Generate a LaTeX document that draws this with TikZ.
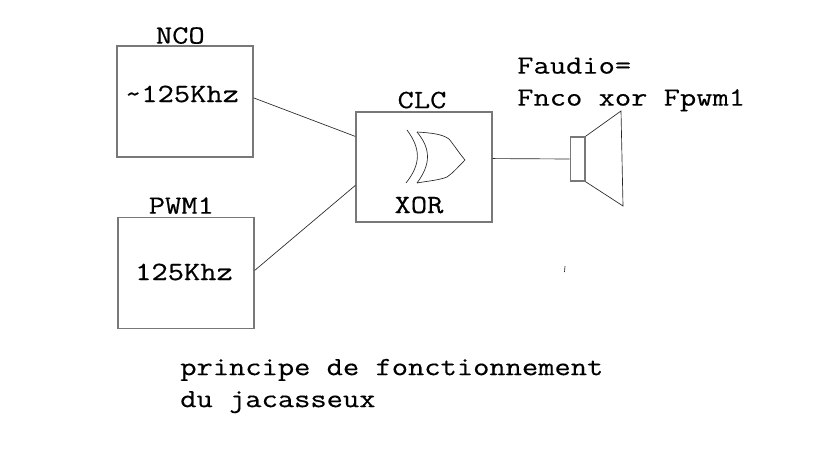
\documentclass[tikz,border=0pt]{standalone}
\usepackage{fontspec}
\setmonofont{Latin Modern Mono}[FakeStretch=1.203,FakeBold=0.4]
\usetikzlibrary{positioning,calc}
\definecolor{boxgray}{RGB}{120,120,120}
\definecolor{wiregray}{RGB}{40,40,40}
\tikzset{
  blockbox/.style={draw=boxgray, line width=1pt, minimum width=102pt, minimum height=83pt, inner sep=0pt},
  wire/.style={draw=wiregray, line width=0.5pt},
  txt/.style={font=\ttfamily\fontsize{19.7pt}{24pt}\selectfont, inner sep=0pt, text=black}
}
\begin{document}
\begin{tikzpicture}[x=0.75pt,y=-0.75pt]
        \useasboundingbox (0,0) rectangle (827,449);
        \fill[white] (0,0) rectangle (827,449);

        % blocks
        \node[blockbox] (nco) at (185,101.5) {};
        \node[blockbox, below=44.5pt of nco, xshift=0.75pt] (pwm) {};
        \node[blockbox, minimum height=82.5pt] (clc) at (424,167) {};
        \node[draw=boxgray, line width=1pt, minimum width=11pt, minimum height=33pt, inner sep=0pt] (hp) at (577.5,159) {};

        % labels
        \node[txt, above=1pt of nco, xshift=-3.5pt] (ncolabel) {NCO};
        \node[txt, above=2pt of pwm, xshift=-3.5pt] (pwmlabel) {PWM1};
        \node[txt, above=2pt of clc, xshift=-1.5pt] (clclabel) {CLC};
        \node[txt] (ncofreq) at (182,94) {\char`\~125Khz};
        \node[txt] (pwmfreq) at (184,272) {125Khz};
        \node[txt] (xorlabel) at (419,205) {XOR};
        \node[txt, align=left, anchor=west] (faudio) at (517,84.5) {Faudio=\\Fnco xor Fpwm1};
        \node[txt, align=left, anchor=west] (caption) at (180,386) {principe de fonctionnement\\du jacasseux};

        % connectors
        \draw[wire] (nco.3.8) -- (clc.156);
        \draw[wire] (pwm.2) -- (clc.195.6);
        \draw[wire] (clc.7.5) -- (hp.west);

        % speaker
        \coordinate (conetop) at (621,111);
        \coordinate (conebot) at (623,206);
        \draw[wire] (hp.north east) -- (conetop) -- (conebot) -- (hp.south east);

        % xor gate
        \draw[wire] (407,130) .. controls (421,149) and (421,164) .. (406,183);
        \draw[wire] (417,132) .. controls (431,149) and (431,164) .. (417,183);
        \draw[wire] (417,132) .. controls (432,133) and (442,134) .. (449,139)
                    .. controls (454,145) and (459,153) .. (465,160)
                    .. controls (458,167) and (453,173) .. (447,177)
                    .. controls (440,180) and (428,181) .. (417,183);

        % stray mark
        \draw[wire] (565,266) -- (564.5,272);
    \end{tikzpicture}
\end{document}
